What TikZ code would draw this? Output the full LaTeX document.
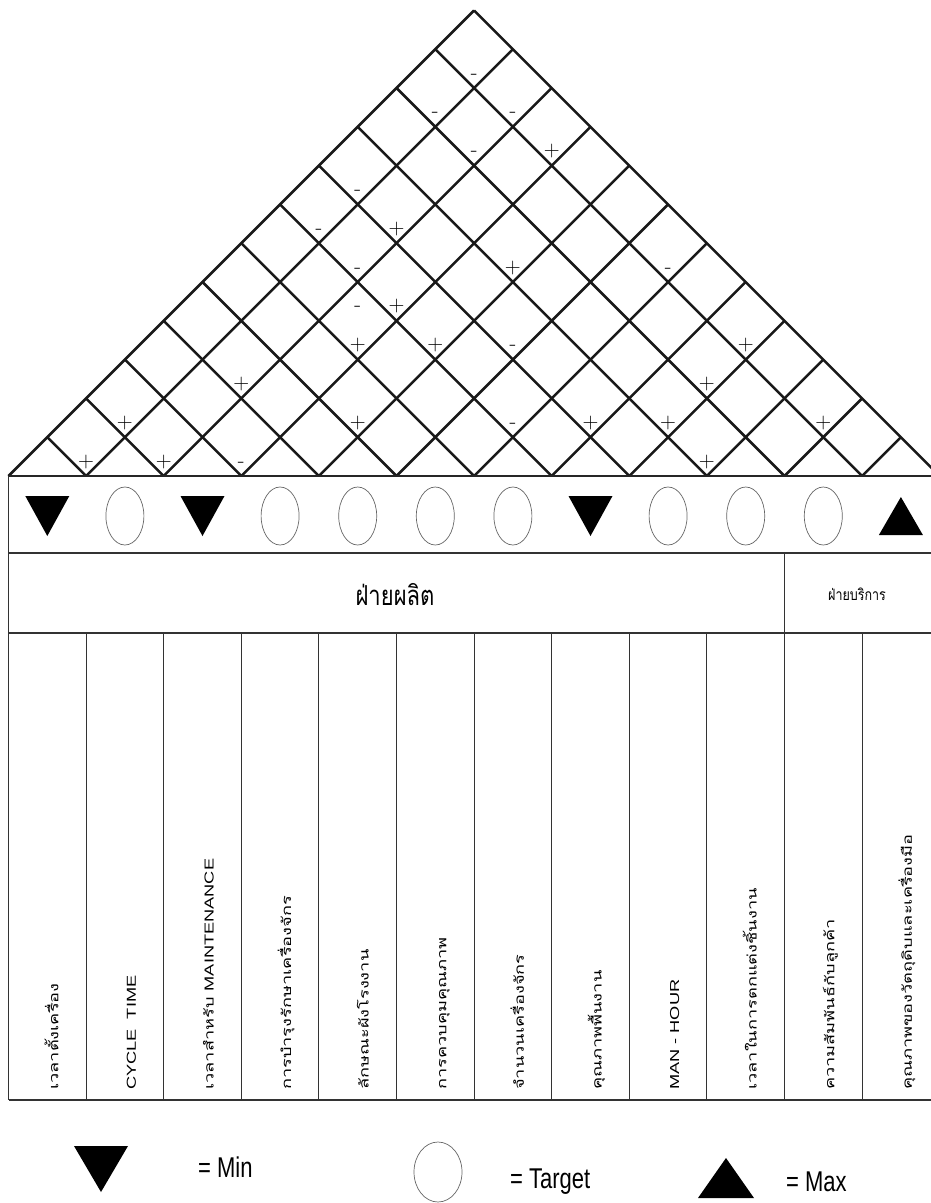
\documentclass[tikz,border=0pt]{standalone}
\usepackage{fontspec}
\usepackage{graphicx}
\newfontfamily\sansf{Liberation Sans}
\newfontfamily\thaif[Script=Thai]{Loma}
\usetikzlibrary{calc}
\begin{document}
\begin{tikzpicture}[x=1pt,y=-1pt,
  lat/.style={line width=2.5pt, black!90},
  tbl/.style={line width=1.1pt, black!80},
  corr/.style={font=\fontsize{22}{26}\selectfont, inner sep=0pt, anchor=base},
  lbl/.style={rotate=90, anchor=base west, inner sep=0pt, font=\fontsize{13}{15}\selectfont},
  leg/.style={anchor=west, inner sep=0pt, font=\sansf\fontsize{22}{26}\selectfont},
  tgtline/.style={line width=0.7pt, black!60}
]
\path[use as bounding box] (0,0) rectangle (931,1203);
\clip (0,0) rectangle (931,1203);
\fill[white] (0,0) rectangle (931,1203);

\def\xo{8.5}
\def\cw{77.6}
\def\yb{476}

\foreach \k in {0,...,12} {
  \coordinate (b\k) at ({\xo+\k*\cw}, \yb);
}

% roof lattice
\foreach \k in {0,...,11} {
  \draw[lat] (b\k) -- ++({(12-\k)*\cw/2}, {-(12-\k)*\cw/2});
}
\foreach \k in {1,...,12} {
  \draw[lat] (b\k) -- ++({-\k*\cw/2}, {-\k*\cw/2});
}

% table
\coordinate (t0) at (\xo, 476);
\coordinate (t1) at (\xo, 553);
\coordinate (t2) at (\xo, 633);
\coordinate (t3) at (\xo, 1100);
\draw[line width=1.6pt, black!85] (t0) -- ++(940,0);
\draw[tbl] (t1) -- ++(940,0);
\draw[tbl] (t2) -- ++(940,0);
\draw[tbl] (t3) -- ++(940,0);
\draw[tbl] (t0) -- (t3);
\draw[tbl] (b10 |- t1) -- (b10 |- t3);
\foreach \k in {1,...,9,11} {
  \draw[line width=0.9pt, black!80] (b\k |- t2) -- (b\k |- t3);
}

% symbol row
\foreach \k/\t in {1/0,2/1,3/0,4/1,5/1,6/1,7/1,8/0,9/1,10/1,11/1,12/2} {
  \coordinate (s\k) at ({\xo+(\k-0.5)*\cw}, 516);
  \ifcase\t
    \fill (s\k) ++(-22,-20) -- ++(44,0) -- ++(-22,40) -- cycle;
  \or
    \draw[tgtline] (s\k) ellipse [x radius=19, y radius=29];
  \or
    \fill (s\k) ++(-22,19) -- ++(44,0) -- ++(-22,-38) -- cycle;
  \fi
}

% department row
\node[inner sep=0pt] (prod) at (395, 595) {\scalebox{1}[1.25]{\thaif\fontsize{22}{26}\selectfont ฝ่ายผลิต}};
\node[inner sep=0pt] (serv) at (857, 594) {\scalebox{1}[1.25]{\thaif\fontsize{12.5}{15}\selectfont ฝ่ายบริการ}};

% column labels
\foreach \k/\txt in {
  1/{\thaif เวลาตั้งเครื่อง},
  2/{\sansf CYCLE\ \ TIME},
  3/{\thaif เวลาสำหรับ \sansf MAINTENANCE},
  4/{\thaif การบำรุงรักษาเครื่องจักร},
  5/{\thaif ลักษณะผังโรงงาน},
  6/{\thaif การควบคุมคุณภาพ},
  7/{\thaif จำนวนเครื่องจักร},
  8/{\thaif คุณภาพพื้นงาน},
  9/{\sansf MAN - HOUR},
  10/{\thaif เวลาในการตกแต่งชิ้นงาน},
  11/{\thaif ความสัมพันธ์กับลูกค้า},
  12/{\thaif คุณภาพของวัตถุดิบและเครื่องมือ}} {
  \node[lbl] (lab\k) at ({\xo+(\k-0.5)*\cw+11}, 1090) {\scalebox{1.4}[1]{\txt}};
}

% correlation marks
\foreach \s/\d/\t in {12/10/-, 11/9/-, 13/9/-, 12/8/-, 14/8/+, 9/7/-, 8/6/-, 10/6/+,
  9/5/-, 13/5/+, 17/5/-, 9/4/-, 10/4/+, 9/3/+, 11/3/+, 13/3/-, 19/3/+, 6/2/+, 18/2/+,
  3/1/+, 9/1/+, 13/1/-, 15/1/+, 17/1/+, 21/1/+, 2/0/+, 4/0/+, 6/0/-, 18/0/+} {
  \node[corr] (r\s-\d) at ({\xo+\s*\cw/2}, {\yb-\d*\cw/2-9}) {\t};
}

% legend
\coordinate (lg1) at (101, 1169);
\coordinate (lg2) at (438, 1172);
\coordinate (lg3) at (726, 1178);
\fill (lg1) ++(-27,-23) -- ++(54,0) -- ++(-27,46) -- cycle;
\draw[tgtline] (lg2) ellipse [x radius=24, y radius=30];
\fill (lg3) ++(-28,20) -- ++(56,0) -- ++(-28,-40) -- cycle;
\node[leg] (lmin) at (198, 1167) {\scalebox{1}[1.3]{= Min}};
\node[leg] (ltgt) at (510, 1182) {\scalebox{1}[1.3]{= Target}};
\node[leg] (lmax) at (786, 1182) {\scalebox{1}[1.3]{= Max}};
\end{tikzpicture}
\end{document}
